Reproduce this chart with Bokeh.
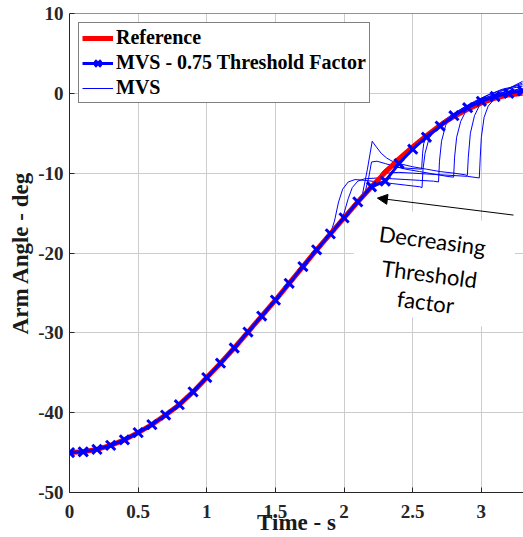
from bokeh.plotting import figure
from bokeh.models import Range1d, FixedTicker, Label, Arrow, NormalHead, Legend, LegendItem, Span
from bokeh.embed import file_html
from bokeh.resources import INLINE

# ---------------- data ----------------
time_ref = [0.0, 0.1, 0.2, 0.3, 0.4, 0.5, 0.6, 0.7, 0.8, 0.9, 1.0, 1.1, 1.2, 1.3, 1.4, 1.5, 1.6,
            1.7, 1.8, 1.9, 2.0, 2.1, 2.2, 2.3, 2.4, 2.5, 2.6, 2.7, 2.8, 2.9, 3.0, 3.1, 3.2, 3.3]
angle_ref = [-45.0, -44.9, -44.6, -44.1, -43.4, -42.5, -41.5, -40.3, -39.0, -37.4, -35.6, -33.8,
             -31.9, -29.9, -27.9, -25.9, -23.8, -21.7, -19.6, -17.6, -15.6, -13.6, -11.7, -9.9,
             -8.2, -6.7, -5.3, -4.0, -2.9, -2.0, -1.2, -0.6, -0.2, 0.0]

time_mvs075 = time_ref
angle_mvs075 = [-45.0, -44.9, -44.6, -44.1, -43.4, -42.5, -41.5, -40.3, -39.0, -37.4, -35.6, -33.8,
                -31.9, -29.9, -27.9, -25.9, -23.8, -21.7, -19.6, -17.6, -15.6, -13.6, -11.7, -11.0,
                -8.8, -7.0, -5.5, -4.1, -2.8, -1.8, -1.0, -0.4, 0.0, 0.3]

mvs_t1 = [1.90, 1.93, 1.96, 1.99, 2.03, 2.08, 2.15, 2.25, 2.35, 2.45, 2.55, 2.568, 2.575, 2.59, 2.62,
          2.68, 2.76, 2.86, 2.96, 3.06, 3.16, 3.30]
mvs_y1 = [-17.6, -16.0, -13.6, -12.0, -11.1, -10.8, -10.9, -11.1, -11.3, -11.5, -11.7, -11.8, -9.5,
          -7.5, -5.6, -4.3, -3.2, -2.0, -1.1, -0.4, 0.1, 0.5]
mvs_t2 = [1.97, 2.00, 2.03, 2.06, 2.10, 2.15, 2.25, 2.35, 2.45, 2.55, 2.65, 2.688, 2.695, 2.71, 2.74,
          2.78, 2.85, 2.95, 3.05, 3.15, 3.30]
mvs_y2 = [-16.2, -15.0, -13.2, -11.8, -11.0, -10.7, -10.6, -10.7, -10.8, -10.9, -11.0, -11.1, -8.5,
          -6.0, -4.0, -2.9, -2.0, -1.0, -0.2, 0.4, 0.9]
mvs_t3 = [2.15, 2.18, 2.20, 2.24, 2.30, 2.36, 2.45, 2.55, 2.65, 2.75, 2.798, 2.805, 2.82, 2.85, 2.90,
          2.97, 3.05, 3.15, 3.30]
mvs_y3 = [-12.6, -10.5, -8.6, -8.5, -8.8, -9.1, -9.5, -9.8, -10.1, -10.4, -10.5, -8.0, -5.5, -3.5,
          -1.8, -0.9, -0.2, 0.5, 1.1]
mvs_t4 = [2.13, 2.17, 2.205, 2.23, 2.27, 2.31, 2.35, 2.40, 2.50, 2.60, 2.70, 2.80, 2.88, 2.898, 2.905,
          2.92, 2.95, 2.99, 3.05, 3.15, 3.30]
mvs_y4 = [-13.0, -9.5, -6.0, -6.6, -7.5, -8.1, -8.5, -8.8, -9.2, -9.5, -9.8, -10.0, -10.2, -10.3,
          -8.0, -5.0, -2.8, -1.4, -0.6, 0.3, 1.3]
mvs_t5 = [2.22, 2.26, 2.30, 2.40, 2.50, 2.60, 2.70, 2.80, 2.90, 2.985, 2.992, 3.00, 3.02, 3.05, 3.09,
          3.15, 3.22, 3.30]
mvs_y5 = [-11.3, -10.6, -10.0, -9.9, -10.0, -10.1, -10.2, -10.3, -10.4, -10.6, -8.0, -5.5, -3.0,
          -1.6, -0.8, 0.0, 0.8, 1.5]
mvs_t6 = [2.24, 2.28, 2.32, 2.40, 2.48, 2.565, 2.572, 2.58, 2.60, 2.64, 2.70, 2.80, 2.90, 3.00,
          3.10, 3.20, 3.30]
mvs_y6 = [-10.9, -9.8, -9.2, -9.3, -9.4, -9.5, -7.5, -6.3, -5.3, -4.6, -3.7, -2.5, -1.5, -0.7,
          -0.1, 0.3, 0.6]

x_ticks = [0, 0.5, 1, 1.5, 2, 2.5, 3]
x_tick_labels = ["0", "0.5", "1", "1.5", "2", "2.5", "3"]
y_ticks = [-50, -40, -30, -20, -10, 0, 10]
y_tick_labels = ["-50", "-40", "-30", "-20", "-10", "0", "10"]

# ---------------- figure ----------------
SERIF = "Liberation Serif"
DARK = "#262626"

p = figure(width=523, height=537, output_backend="svg", toolbar_location=None,
           x_range=Range1d(0, 3.307), y_range=Range1d(-50, 10),
           min_border_left=69, min_border_right=0, min_border_top=13, min_border_bottom=44)
p.outline_line_color = None
p.background_fill_color = "white"

for ax in (p.xaxis[0], p.yaxis[0]):
    ax.major_tick_in = 5
    ax.major_tick_out = 0
    ax.minor_tick_line_color = None
    ax.axis_line_color = DARK
    ax.major_tick_line_color = DARK
    ax.major_label_text_font = SERIF
    ax.major_label_text_font_style = "bold"
    ax.major_label_text_font_size = "19px"
    ax.major_label_text_color = DARK
    ax.axis_label_text_font = SERIF
    ax.axis_label_text_font_style = "bold"
    ax.axis_label_text_font_size = "23px"
    ax.axis_label_text_color = "#1a1a1a"

p.xaxis.ticker = FixedTicker(ticks=x_ticks)
p.xaxis.major_label_overrides = {t: l for t, l in zip(x_ticks, x_tick_labels)}
p.xaxis.major_label_standoff = 12
p.xaxis.axis_label = "Time - s"
p.xaxis.axis_label_standoff = -11
p.yaxis.ticker = FixedTicker(ticks=y_ticks)
p.yaxis.major_label_overrides = {t: l for t, l in zip(y_ticks, y_tick_labels)}
p.yaxis.major_label_standoff = 6
p.yaxis.axis_label = "Arm Angle - deg"
p.yaxis.axis_label_standoff = 2

p.add_layout(Span(location=10, dimension="width", line_color=DARK, line_width=1))

p.xgrid.ticker = FixedTicker(ticks=x_ticks)
p.ygrid.ticker = FixedTicker(ticks=y_ticks)
p.grid.grid_line_color = "#cccccc"
p.grid.grid_line_width = 1

# white box behind the annotation text
p.rect(x=[2.644], y=[-21.75], width=160, height=105, width_units="screen", height_units="screen",
       angle=-0.13, fill_color="white", line_color=None)

mvs_xs = [mvs_t1, mvs_t2, mvs_t3, mvs_t4, mvs_t5, mvs_t6]
mvs_ys = [mvs_y1, mvs_y2, mvs_y3, mvs_y4, mvs_y5, mvs_y6]
r_mvs = p.multi_line(xs=mvs_xs, ys=mvs_ys, line_color="#0000ff", line_width=1)
r_ref = p.line(time_ref, angle_ref, line_color="#ff0000", line_width=5)
r_75 = p.line(time_mvs075, angle_mvs075, line_color="#0000ff", line_width=3)
r_75m = p.scatter(time_mvs075, angle_mvs075, marker="x", size=13, line_color="#0000ff", line_width=3)

legend = Legend(items=[LegendItem(label="Reference", renderers=[r_ref]),
                       LegendItem(label="MVS - 0.75 Threshold Factor", renderers=[r_75, r_75m]),
                       LegendItem(label="MVS", renderers=[r_mvs])],
                location="top_left", margin=9, padding=3, spacing=2,
                label_text_font=SERIF, label_text_font_style="bold", label_text_font_size="20px",
                label_text_color="black", label_height=22, glyph_height=22, glyph_width=31,
                label_standoff=3, border_line_color="black", border_line_width=1,
                background_fill_color="white", background_fill_alpha=1.0)
p.add_layout(legend)

# annotation
for tx, ty, tt in [(2.644, -18.4, "Decreasing"), (2.622, -22.6, "Threshold"), (2.593, -26.1, "factor")]:
    p.add_layout(Label(x=tx, y=ty, text=tt, text_font="Lato", text_font_size="22px", text_color="black",
                       text_align="center", text_baseline="middle", angle=-0.13))

p.add_layout(Arrow(end=NormalHead(size=10, fill_color="black", line_color="black"),
                   x_start=3.234, y_start=-15.25, x_end=2.243, y_end=-13.125,
                   line_color="black", line_width=1))

open("out.html", "w").write(file_html(p, INLINE))
